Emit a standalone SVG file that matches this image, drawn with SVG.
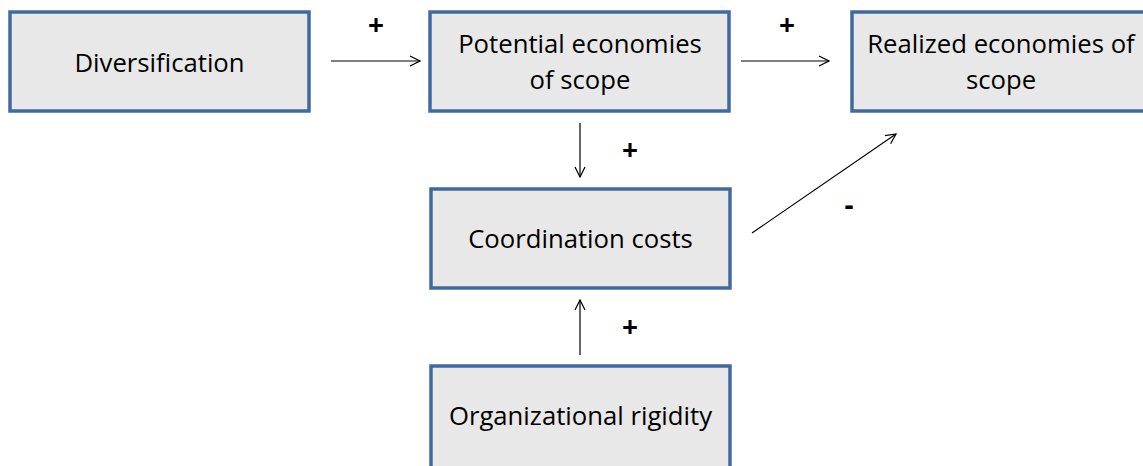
<svg xmlns="http://www.w3.org/2000/svg" width="1143" height="466" viewBox="0 0 1143 466">
<style>
.box{fill:#e8e8e8;stroke:#41699e;stroke-width:3.5}
.t{font-family:"Open Sans","Liberation Sans",sans-serif;font-size:25.7px;fill:#000;text-anchor:middle}
.s{font-family:"Open Sans","Liberation Sans",sans-serif;font-size:28px;font-weight:bold;fill:#000;text-anchor:middle}
.c{stroke:#000;stroke-width:1.2;fill:none}
</style>
<defs>
<marker id="ah" viewBox="0 0 12 12" refX="11" refY="6" markerWidth="12" markerHeight="12" markerUnits="userSpaceOnUse" orient="auto">
<path d="M1,1 L11,6 L1,11" fill="none" stroke="#000" stroke-width="1.2"/>
</marker>
</defs>
<rect width="1143" height="466" fill="#fff"/>
<g id="diversification">
<rect class="box" x="10" y="12" width="299" height="99"/>
<text class="t" x="159.5" y="72">Diversification</text>
</g>
<g id="potential">
<rect class="box" x="430" y="12" width="299" height="99"/>
<text class="t" x="580" y="53">Potential economies</text>
<text class="t" x="580" y="89">of scope</text>
</g>
<g id="realized">
<rect class="box" x="852" y="12" width="299" height="99"/>
<text class="t" x="1001" y="53">Realized economies of</text>
<text class="t" x="1001" y="89">scope</text>
</g>
<g id="coordination">
<rect class="box" x="431" y="189" width="299" height="99"/>
<text class="t" x="580.5" y="248">Coordination costs</text>
</g>
<g id="rigidity">
<rect class="box" x="431" y="366" width="299" height="104"/>
<text class="t" x="580.5" y="425">Organizational rigidity</text>
</g>
<g id="connectors">
<line class="c" x1="331" y1="61" x2="420" y2="61" marker-end="url(#ah)"/>
<line class="c" x1="741" y1="61" x2="829" y2="61" marker-end="url(#ah)"/>
<line class="c" x1="580" y1="123" x2="580" y2="177" marker-end="url(#ah)"/>
<line class="c" x1="580" y1="355" x2="580" y2="300" marker-end="url(#ah)"/>
<line class="c" x1="752" y1="233" x2="896" y2="134" marker-end="url(#ah)"/>
<text class="s" x="376" y="35">+</text>
<text class="s" x="787" y="35">+</text>
<text class="s" x="630" y="160">+</text>
<text class="s" x="630" y="337">+</text>
<text class="s" x="849" y="215">-</text>
</g>
</svg>
